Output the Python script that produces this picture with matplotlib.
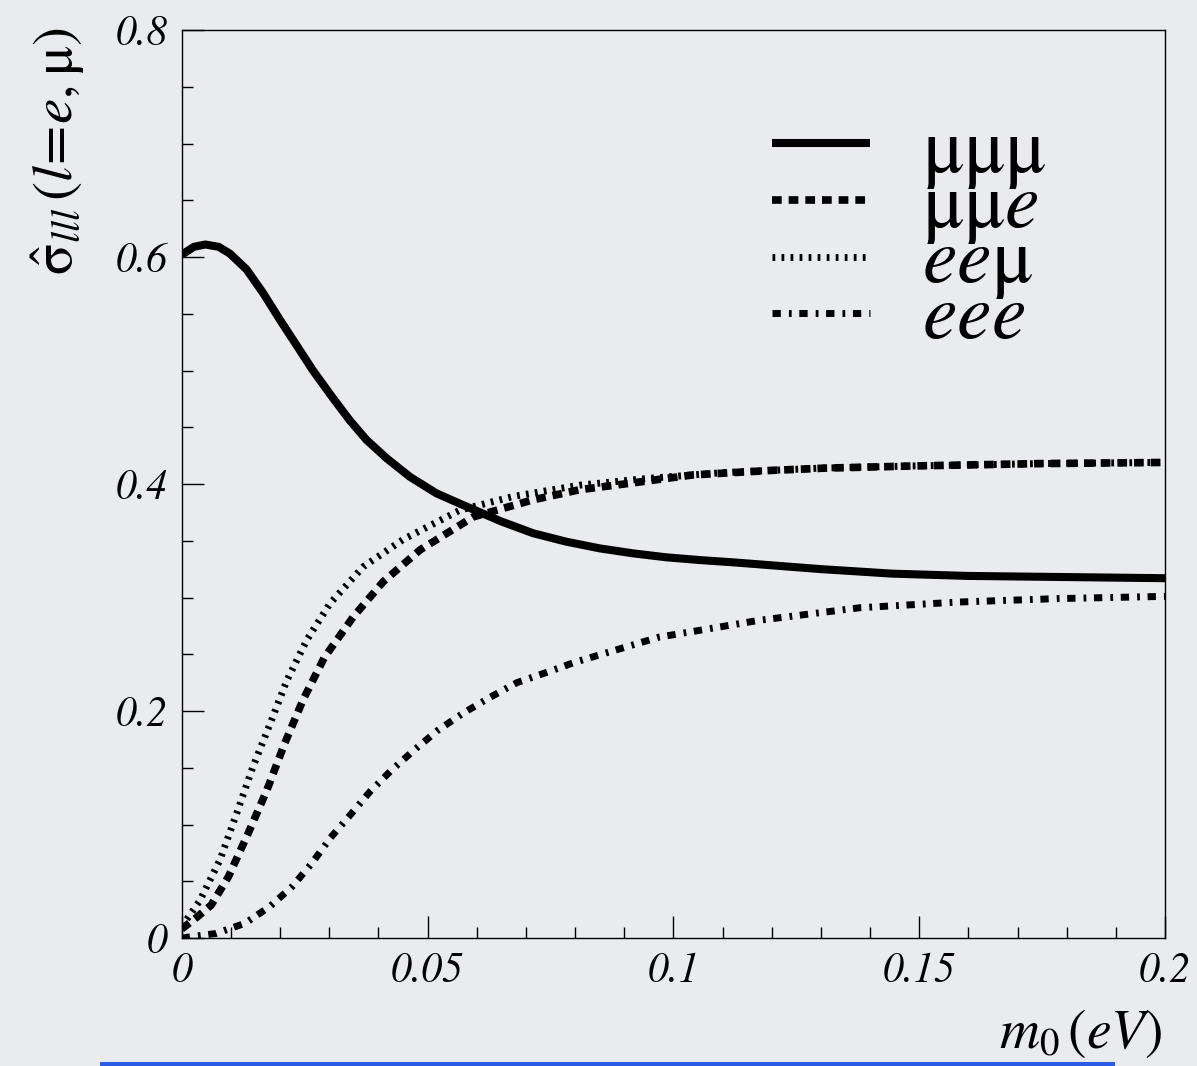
import matplotlib
matplotlib.use('Agg')
import matplotlib.pyplot as plt
from matplotlib.patches import Rectangle
from matplotlib.ticker import MultipleLocator, FixedFormatter, FixedLocator

plt.rcParams['mathtext.fontset'] = 'stix'
plt.rcParams['lines.scale_dashes'] = False

# ---- data ----
x_mmm = [0, 0.0025, 0.0048, 0.0075, 0.0098, 0.0132, 0.0166, 0.020, 0.0234, 0.0267, 0.0308,
         0.0342, 0.0376, 0.0417, 0.0464, 0.0518, 0.0572, 0.065, 0.0715, 0.0782, 0.085,
         0.0918, 0.0986, 0.1053, 0.1121, 0.13, 0.1446, 0.16, 0.18, 0.2]
y_mmm = [0.602, 0.609, 0.611, 0.609, 0.603, 0.589, 0.568, 0.5445, 0.522, 0.500, 0.4755,
         0.456, 0.4388, 0.4226, 0.4064, 0.3918, 0.3815, 0.367, 0.3566, 0.3492, 0.3433,
         0.3389, 0.3354, 0.333, 0.331, 0.325, 0.321, 0.319, 0.318, 0.317]

x_mme = [0, 0.003, 0.006, 0.0095, 0.0135, 0.0173, 0.021, 0.0247, 0.029, 0.0349, 0.041,
         0.0485, 0.0593, 0.0714, 0.081, 0.09, 0.104, 0.12, 0.131, 0.15, 0.175, 0.2]
y_mme = [0.008, 0.018, 0.029, 0.054, 0.092, 0.130, 0.172, 0.210, 0.247, 0.283, 0.314,
         0.342, 0.371, 0.386, 0.395, 0.400, 0.408, 0.412, 0.414, 0.416, 0.418, 0.419]

x_eem = [0, 0.0037, 0.0078, 0.0112, 0.0145, 0.018, 0.0214, 0.0255, 0.0302, 0.0369, 0.045,
         0.0566, 0.0674, 0.081, 0.095, 0.11, 0.13, 0.15, 0.175, 0.2]
y_eem = [0.010, 0.033, 0.069, 0.110, 0.151, 0.189, 0.227, 0.263, 0.295, 0.327, 0.351,
         0.377, 0.389, 0.399, 0.405, 0.410, 0.414, 0.416, 0.418, 0.419]

x_eee = [0, 0.007, 0.0129, 0.018, 0.0224, 0.0265, 0.0302, 0.0342, 0.0383, 0.0427, 0.0474,
         0.0521, 0.0572, 0.0627, 0.0682, 0.0742, 0.08, 0.097, 0.1176, 0.138, 0.158, 0.178, 0.2]
y_eee = [0.0, 0.004, 0.013, 0.028, 0.045, 0.066, 0.088, 0.108, 0.129, 0.148, 0.166,
         0.183, 0.198, 0.212, 0.225, 0.234, 0.243, 0.265, 0.280, 0.291, 0.296, 0.299, 0.301]

labels = [r'$\mathrm{\mu\mu\mu}$', r'$\mathrm{\mu\mu}e$', r'$ee\mathrm{\mu}$', r'$eee$']
xticks = [0, 0.05, 0.1, 0.15, 0.2]
xticklabels = ['0', '0.05', '0.1', '0.15', '0.2']
yticks = [0, 0.2, 0.4, 0.6, 0.8]
yticklabels = ['0', '0.2', '0.4', '0.6', '0.8']

bg = '#e9ebee'
W, H = 1197, 1066
fig = plt.figure(figsize=(W / 100, H / 100), dpi=100, facecolor=bg)
ax = fig.add_axes([181.7 / W, 1 - 938 / H, (1165 - 181.7) / W, (938 - 30) / H])
ax.set_facecolor(bg)

styles = [
    dict(lw=5.8, ls='-', solid_capstyle='butt', solid_joinstyle='round'),
    dict(lw=5.5, ls=(0, (7, 5)), dash_capstyle='butt'),
    dict(lw=5.0, ls=(0, (2, 4.5)), dash_capstyle='butt'),
    dict(lw=5.0, ls=(0, (6, 5.8, 2, 5.5)), dash_capstyle='butt'),
]
series = [(x_mmm, y_mmm), (x_mme, y_mme), (x_eem, y_eem), (x_eee, y_eee)]
for (xs, ys), st in zip(series, styles):
    ax.plot(xs, ys, color='black', clip_on=True, **st)

ax.set_xlim(0, 0.2)
ax.set_ylim(0, 0.8)

ax.xaxis.set_major_locator(FixedLocator(xticks))
ax.xaxis.set_major_formatter(FixedFormatter(xticklabels))
ax.yaxis.set_major_locator(FixedLocator(yticks))
ax.yaxis.set_major_formatter(FixedFormatter(yticklabels))
ax.xaxis.set_minor_locator(MultipleLocator(0.01))
ax.yaxis.set_minor_locator(MultipleLocator(0.05))
ax.tick_params(which='both', direction='in', top=False, right=False, width=1.0, color='black')
ax.tick_params(which='major', length=16)
ax.tick_params(which='minor', length=8)
ax.tick_params(axis='x', pad=10)
ax.tick_params(axis='y', pad=10)
for lab in ax.get_xticklabels() + ax.get_yticklabels():
    lab.set_fontfamily('STIXGeneral')
    lab.set_fontstyle('italic')
    lab.set_fontsize(30)
for sp in ax.spines.values():
    sp.set_linewidth(1.0)

# legend (manual, tightly spaced like the original)
leg_y_line = [0.8755, 0.8128, 0.7500, 0.6883]
leg_y_text = [0.8436, 0.7830, 0.7225, 0.6608]
for st, lab, yl, yt in zip(styles, labels, leg_y_line, leg_y_text):
    ax.plot([0.600, 0.700], [yl, yl], transform=ax.transAxes, color='black', **st)
    ax.text(0.753, yt, lab, transform=ax.transAxes, fontsize=56, va='baseline', ha='left')

fig.text(58 / W, 1 - 28 / H, r'$\hat{\mathrm{\sigma}}_{lll}\,(l\!=\!e,\mathrm{\mu})$',
         rotation=90, ha='center', va='top', fontsize=41)
fig.text(1162 / W, 1 - 1048 / H, r'$m_{\mathit{0}}\,(eV)$', ha='right', va='baseline', fontsize=40)

fig.add_artist(Rectangle((100 / W, 0), (1115 - 100) / W, 4.5 / H, transform=fig.transFigure,
                         color='#2c5ce6', lw=0))

fig.savefig('out.png', dpi=100, facecolor=bg)
